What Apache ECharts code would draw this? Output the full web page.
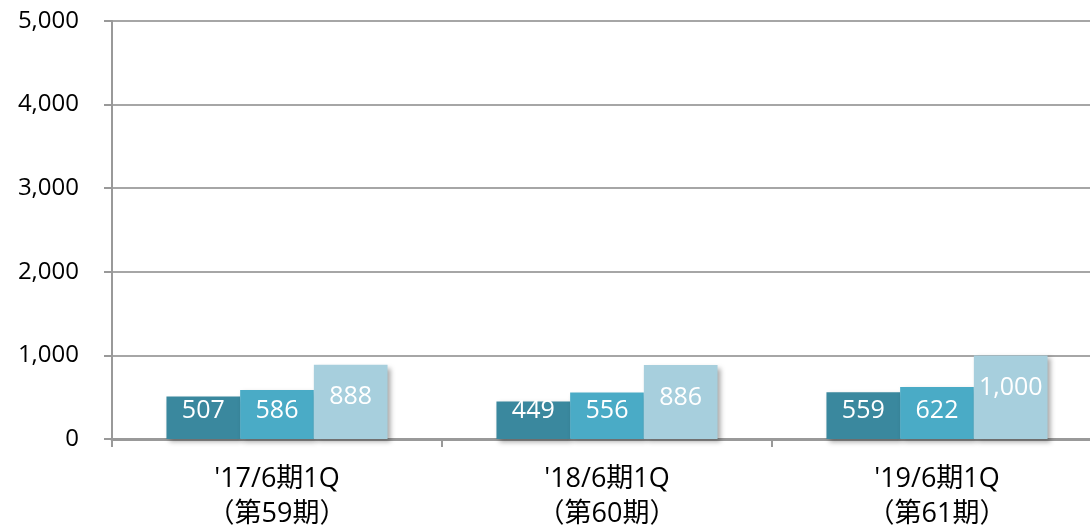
<!DOCTYPE html>
<html>
<head>
<meta charset="utf-8">
<script src="https://cdn.jsdelivr.net/npm/echarts@6/dist/echarts.min.js"></script>
<style>
  html, body { margin: 0; padding: 0; background: #fff; }
  #chart { width: 1090px; height: 529px; }
</style>
</head>
<body>
<div id="chart"></div>
<script>
// 期ごとのカテゴリ
var categories = ["'17/6期1Q\n（第59期）", "'18/6期1Q\n（第60期）", "'19/6期1Q\n（第61期）"];
var seriesA = [507, 449, 559];
var seriesB = [586, 556, 622];
var seriesC = [888, 886, 1000];
var yTicks = [0, 1000, 2000, 3000, 4000, 5000];

var fontFamily = "'Open Sans', 'Noto Sans CJK JP', sans-serif";
var shadow = {
  shadowColor: 'rgba(0,0,0,0.35)',
  shadowBlur: 5,
  shadowOffsetX: 3,
  shadowOffsetY: 3
};

function fmt(v) {
  return v.toLocaleString('en-US');
}

var chart = echarts.init(document.getElementById('chart'));
chart.setOption({
  animation: false,
  grid: { left: 112, right: -12, top: 21, bottom: 90, outerBoundsMode: 'none', containLabel: false },
  xAxis: {
    type: 'category',
    data: categories,
    axisLine: { lineStyle: { color: '#999', width: 3 } },
    axisTick: { show: true, length: 8, lineStyle: { color: '#999', width: 2 } },
    axisLabel: {
      color: '#000',
      fontSize: 27,
      fontFamily: fontFamily,
      lineHeight: 35,
      margin: 23
    }
  },
  yAxis: {
    type: 'value',
    min: yTicks[0],
    max: yTicks[yTicks.length - 1],
    interval: 1000,
    axisLine: { show: true, lineStyle: { color: '#999', width: 2 } },
    axisTick: { show: true, length: 8, lineStyle: { color: '#999', width: 2 } },
    splitLine: { lineStyle: { color: '#a6a6a6', width: 2 } },
    axisLabel: {
      color: '#000',
      fontSize: 24,
      fontFamily: fontFamily,
      margin: 33,
      formatter: function (v) { return fmt(v); }
    }
  },
  series: [
    {
      type: 'bar',
      data: seriesA,
      barGap: '0%',
      barCategoryGap: '33%',
      itemStyle: Object.assign({ color: '#3a889e' }, shadow),
      label: {
        show: true, position: 'insideBottom', distance: 16,
        color: '#fff', fontSize: 25, fontFamily: fontFamily
      }
    },
    {
      type: 'bar',
      data: seriesB,
      barGap: '0%',
      barCategoryGap: '33%',
      itemStyle: Object.assign({ color: '#4aabc6' }, shadow),
      label: {
        show: true, position: 'insideBottom', distance: 16,
        color: '#fff', fontSize: 25, fontFamily: fontFamily
      }
    },
    {
      type: 'bar',
      data: seriesC,
      barGap: '0%',
      barCategoryGap: '33%',
      itemStyle: Object.assign({ color: '#a7cfdd' }, shadow),
      label: {
        show: true, position: 'insideTop', distance: 20,
        color: '#fff', fontSize: 25, fontFamily: fontFamily,
        formatter: function (p) { return fmt(p.value); }
      }
    }
  ]
});
</script>
</body>
</html>
